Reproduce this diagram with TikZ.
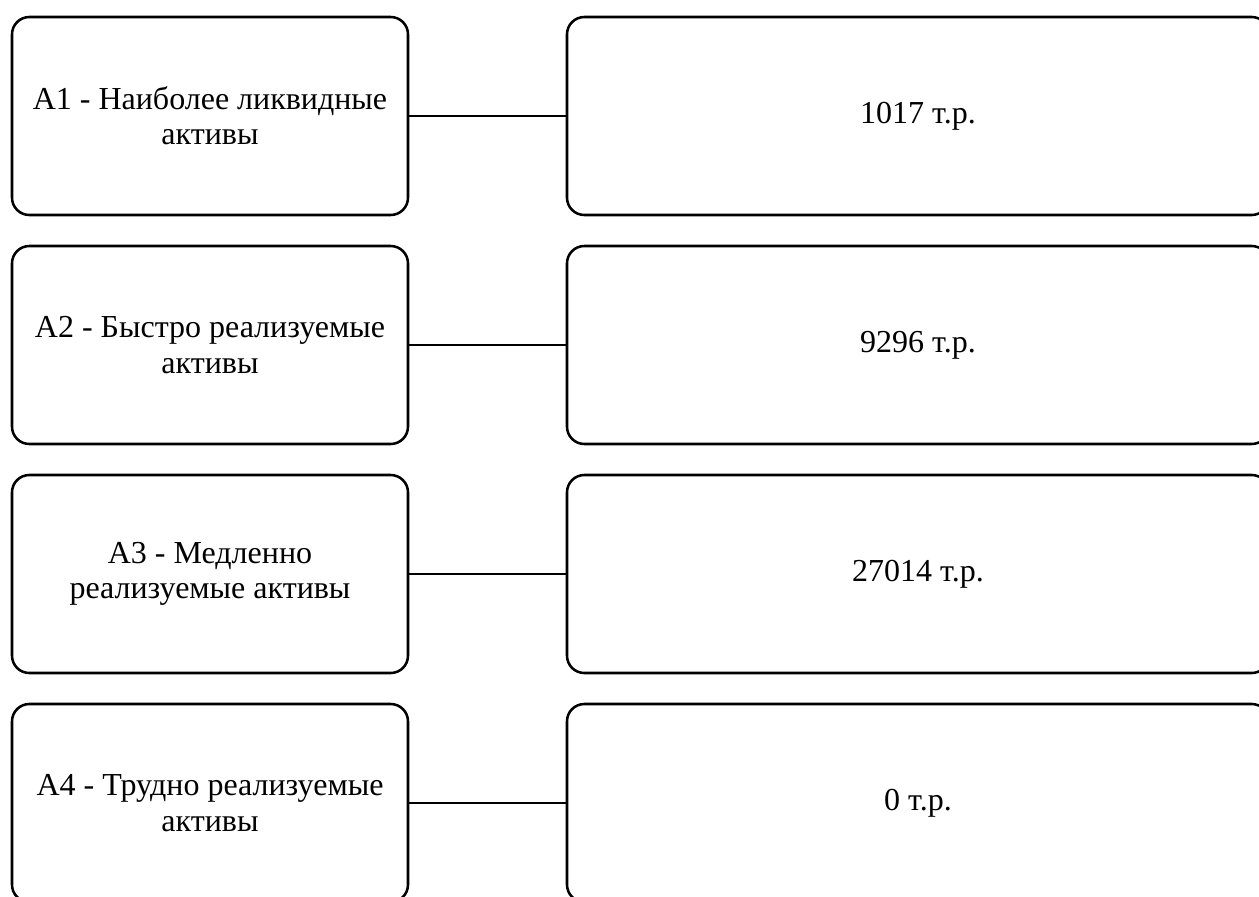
\documentclass[tikz,border=0pt]{standalone}
\usepackage{fontspec}
\setmainfont{Liberation Serif}
\begin{document}
\begin{tikzpicture}[x=0.75pt,y=-0.75pt,
  card/.style={draw=black, line width=1.9pt, rounded corners=13pt, inner sep=0pt,
    align=center, font=\fontsize{24}{26.5}\selectfont},
  namebox/.style={card, minimum width=297pt, minimum height=148.5pt},
  valuebox/.style={card, minimum width=526.5pt, minimum height=148.5pt},
  link/.style={line width=1.9pt}]
\useasboundingbox (0,0) rectangle (1259,896);
% left column: asset groups, right column: their amounts
\foreach \i/\name/\val [count=\k from 0] in {
  1/{A1 - Наиболее ликвидные\\активы}/{1017 т.р.},
  2/{A2 - Быстро реализуемые\\активы}/{9296 т.р.},
  3/{A3 - Медленно\\реализуемые активы}/{27014 т.р.},
  4/{A4 - Трудно реализуемые\\активы}/{0 т.р.}} {
  \node[namebox] (g\i) at (210, 116+229*\k) {\name};
  \node[valuebox] (v\i) at (918, 116+229*\k) {\val};
  \draw[link] (g\i.east) -- (v\i.west);
}
\end{tikzpicture}
\end{document}
